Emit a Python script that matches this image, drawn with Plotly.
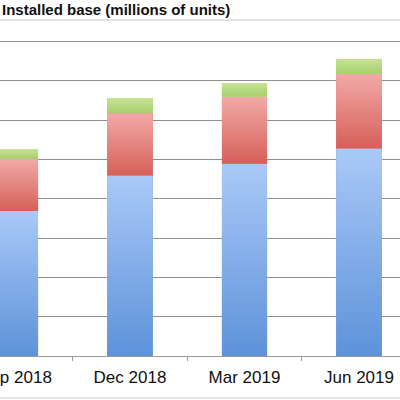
import base64
import plotly.graph_objects as go

categories = ["Sep 2018", "Dec 2018", "Mar 2019", "Jun 2019"]
series_1 = [36.9, 45.9, 48.9, 52.8]
series_2 = [13.2, 15.9, 17.1, 19.0]
series_3 = [2.6, 3.9, 3.5, 3.7]
series_names = ["Series 1", "Series 2", "Series 3"]
title_text = "Installed base (millions of units)"

BAR_W = 0.4
styles = [
    ("#84aee8", "#aac9f7", "#5d92da"),
    ("#e6847e", "#f2aaa8", "#d65f58"),
    ("#b9da83", "#c7e294", "#a6cf6c"),
]


def grad_uri(top, bottom):
    svg = (
        "<svg xmlns='http://www.w3.org/2000/svg' width='10' height='100' viewBox='0 0 10 100' "
        "preserveAspectRatio='none'><defs><linearGradient id='g' x1='0' y1='0' x2='0' y2='1'>"
        f"<stop offset='0' stop-color='{top}'/><stop offset='1' stop-color='{bottom}'/>"
        "</linearGradient></defs><rect width='10' height='100' fill='url(#g)'/></svg>"
    )
    return "data:image/svg+xml;base64," + base64.b64encode(svg.encode()).decode()


fig = go.Figure()
all_series = [series_1, series_2, series_3]
images = []
bases = [0.0] * len(categories)
for vals, name, (mid, top, bottom) in zip(all_series, series_names, styles):
    fig.add_trace(go.Bar(x=categories, y=vals, name=name,
                         marker=dict(color=mid, line=dict(width=0)), width=BAR_W))
    src = grad_uri(top, bottom)
    for i, v in enumerate(vals):
        images.append(dict(source=src, xref="x", yref="y", x=i - BAR_W / 2, y=bases[i] + v,
                           sizex=BAR_W, sizey=v, sizing="stretch", xanchor="left", yanchor="top",
                           layer="above"))
        bases[i] += v

fig.update_layout(
    barmode="stack",
    width=400, height=400,
    margin=dict(l=0, r=0, t=20, b=44, autoexpand=False),
    paper_bgcolor="white", plot_bgcolor="white",
    showlegend=False,
    images=images,
    xaxis=dict(
        range=[-0.135, 3.358], automargin=False,
        tickson="boundaries", ticks="outside", ticklen=4, tickcolor="#9a9a9a",
        ticklabelstandoff=6,
        showline=True, linecolor="#9a9a9a", linewidth=1,
        showgrid=False,
        tickfont=dict(family="Liberation Sans, Arial, sans-serif", size=17, color="#111111"),
    ),
    yaxis=dict(
        range=[0, 85.5], dtick=10, showticklabels=False, automargin=False,
        showgrid=True, gridcolor="#8f8f8f", gridwidth=1, zeroline=False,
    ),
    annotations=[dict(
        text="<b>" + title_text + "</b>", xref="paper", yref="paper",
        x=232/400, y=1, xanchor="right", yanchor="bottom", showarrow=False,
        font=dict(family="Liberation Sans, Arial, sans-serif", size=15, color="#111111"),
    )],
    shapes=[
        dict(type="line", xref="paper", yref="paper", x0=0, x1=1, y0=1, y1=1, line=dict(color="#c8c8c8", width=1)),
        dict(type="line", xref="paper", yref="paper", x0=0, x1=1, y0=-42/336, y1=-42/336, line=dict(color="#c8c8c8", width=1)),
    ],
)

fig.write_html("out.html", config={"displayModeBar": False},
               post_script="document.body.style.margin='0';")
